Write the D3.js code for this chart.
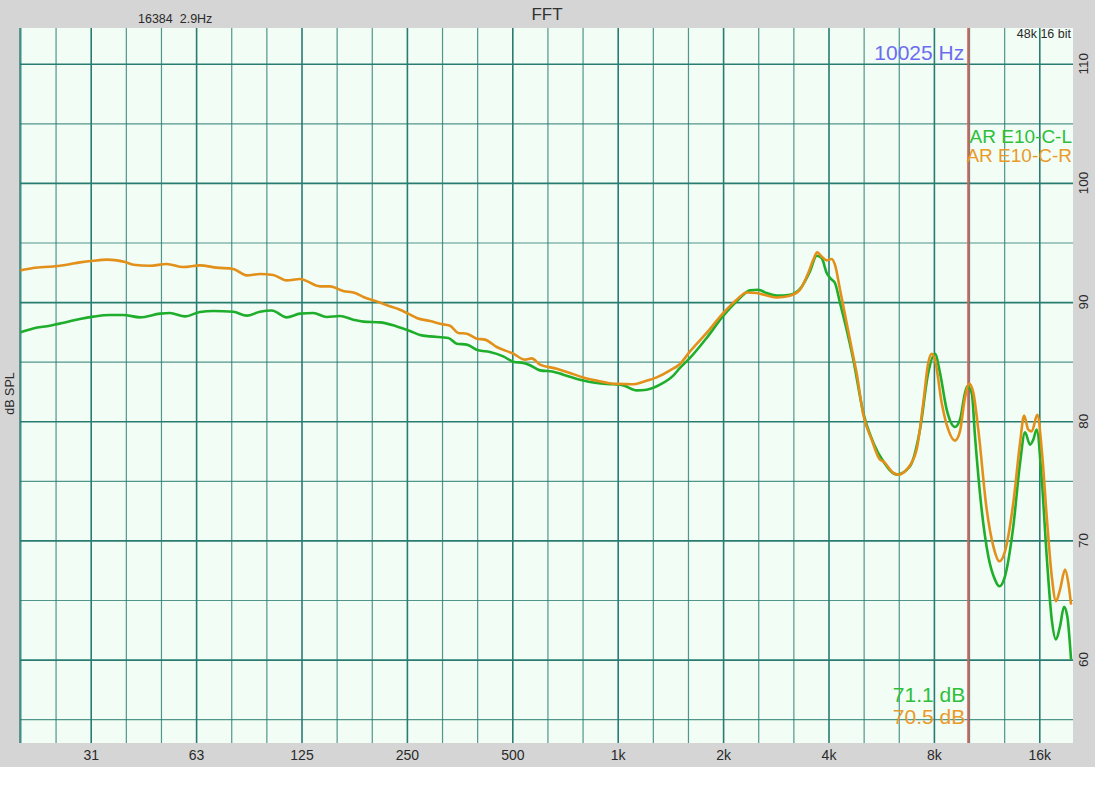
<!DOCTYPE html>
<html>
<head>
<meta charset="utf-8">
<script src="https://cdn.jsdelivr.net/npm/d3@7"></script>
<style>
  html, body { margin: 0; padding: 0; background: #ffffff; }
  svg { display: block; font-family: "Liberation Sans", Arial, Helvetica, sans-serif; }
</style>
</head>
<body>
<svg id="chart" width="1095" height="800"></svg>
<script>
// ---------- DATA ----------
const seriesNames = ["AR E10-C-L", "AR E10-C-R"];
const levelLabels = ["71.1 dB", "70.5 dB"];
const cursorFreq = 10025;
const cursorLabel = "10025 Hz";
const fftInfo = "16384  2.9Hz";
const formatInfo = "48k 16 bit";
const titleText = "FFT";
const yAxisTitle = "dB SPL";

const xTickFreqs = [31.25, 62.5, 125, 250, 500, 1000, 2000, 4000, 8000, 16000];
const xTickLabels = ["31", "63", "125", "250", "500", "1k", "2k", "4k", "8k", "16k"];
const yTickValues = [60, 70, 80, 90, 100, 110];

// Left channel (green)
const freqL = [19.7, 21.4, 23.9, 26.7, 29.1, 31.8, 35.5, 38.7, 43.2, 49.3, 52.6, 58.1, 64.1, 70.0, 79.8, 87.2, 95.1, 102.8,
  113.4, 123.8, 135.1, 147.5, 161.0, 175.7, 187.7, 209.5, 233.8, 255.1, 272.5, 291.1, 328.3, 346.9, 370.4, 399.8,
  431.7, 471.1, 503.2, 537.5, 555.5, 600.0, 654.9, 699.4, 780.3, 871.2, 971.5, 1037.6, 1133, 1210, 1321, 1441, 1506,
  1609, 1795, 2004, 2187, 2387, 2521, 2664, 2845, 3106, 3316, 3541, 3702, 3824, 3953, 4085, 4173, 4315, 4507, 4709,
  5029, 5371, 5734, 6264, 6837, 7301, 7707, 8056, 8329, 8703, 9191, 9495, 9815, 9968, 10261, 10484, 10952, 11441,
  11953, 12304, 12766, 13486, 14098, 14564, 15054, 15382, 15728, 16260, 16799, 17367, 17857, 18335, 18823, 19232, 19716];
const dbL = [87.46, 87.79, 88.02, 88.33, 88.58, 88.78, 88.92, 88.92, 88.72, 89.03, 89.09, 88.80, 89.17, 89.25, 89.19, 88.86, 89.19, 89.30,
  88.72, 89.03, 89.09, 88.75, 88.83, 88.52, 88.36, 88.30, 87.96, 87.58, 87.24, 87.12, 86.99, 86.51, 86.43, 85.95,
  85.81, 85.44, 85.00, 84.89, 84.77, 84.27, 84.16, 83.91, 83.49, 83.21, 83.10, 83.01, 82.59, 82.65, 83.07, 83.83, 84.47,
  85.31, 86.99, 88.86, 90.06, 90.98, 91.04, 90.76, 90.54, 90.62, 91.10, 92.58, 93.89, 93.70, 92.44, 91.88, 91.60, 89.92, 87.68, 85.17,
  80.70, 78.20, 76.64, 75.52, 76.22, 79.30, 84.05, 85.67, 84.05, 80.97, 79.52, 80.13, 82.37, 82.93, 82.37, 78.73, 72.58, 68.67,
  66.71, 66.15, 66.99, 71.18, 76.50, 79.07, 78.04, 78.46, 79.30, 75.10, 68.67, 63.36, 61.68, 62.79, 64.42, 63.63, 60.00];

// Right channel (orange)
const freqR = [19.7, 21.4, 24.4, 26.7, 29.1, 31.8, 34.7, 37.1, 39.2, 41.4, 46.1, 51.5, 57.4, 64.1, 71.6, 79.8, 87.2, 95.1,
  103.8, 113.4, 123.8, 141.2, 150.7, 164.5, 177.7, 187.7, 204.9, 221.2, 236.2, 252.3, 266.7, 291.1, 317.6, 332.0,
  350.6, 370.4, 395.6, 417.9, 451.3, 503.2, 543.6, 568.2, 600.0, 669.6, 730.6, 797.4, 871.2, 971.5, 1037.6, 1108,
  1183, 1292, 1411, 1506, 1609, 1795, 2004, 2187, 2336, 2495, 2664, 2845, 3106, 3316, 3502, 3620, 3714, 3824, 3953,
  4085, 4173, 4315, 4507, 4709, 4813, 5029, 5312, 5612, 5734, 6123, 6329, 6686, 7141, 7460, 7707, 7885, 8056, 8421,
  8794, 9191, 9495, 9815, 10100, 10369, 10713, 11323, 11827, 12304, 12766, 13486, 14098, 14475, 14882, 15225, 15794,
  16260, 16799, 17367, 17857, 18335, 18955, 19365, 19716];
const dbR = [92.66, 92.86, 92.99, 93.14, 93.33, 93.47, 93.56, 93.50, 93.36, 93.14, 93.05, 93.20, 92.94, 93.08, 92.89, 92.78, 92.24, 92.36,
  92.27, 91.82, 91.94, 91.32, 91.32, 90.93, 90.76, 90.43, 90.06, 89.70, 89.42, 89.03, 88.67, 88.41, 88.13, 88.02,
  87.41, 87.35, 86.93, 86.85, 86.23, 85.67, 85.17, 85.28, 84.75, 84.41, 84.05, 83.68, 83.41, 83.15, 83.13, 83.10,
  83.32, 83.68, 84.27, 84.81, 85.86, 87.41, 89.09, 90.20, 90.81, 90.76, 90.56, 90.39, 90.54, 91.04, 92.44, 93.56, 94.17, 93.83, 93.50,
  93.62, 93.14, 91.04, 88.25, 85.44, 84.05, 80.55, 78.46, 76.78, 76.64, 75.66, 75.52, 75.94, 77.62, 81.54, 84.89, 85.67, 85.17, 81.54,
  79.30, 78.37, 79.15, 81.98, 83.15, 82.40, 79.30, 72.58, 69.50, 68.25, 69.09, 73.15, 78.18, 80.47, 79.30, 79.15, 80.55,
  77.62, 72.02, 66.99, 64.89, 65.87, 67.55, 66.44, 64.61];

// ---------- LAYOUT ----------
const W = 1095, H = 800;
const plot = { left: 20, top: 28, right: 1073, bottom: 743 };
const colors = {
  frame: "#d5d5d5",
  plotBg: "#f2fdf5",
  grid: "#287c71",
  green: "#1fae2c",
  orange: "#e2901a",
  greenText: "#2dbf3a",
  orangeText: "#ea9a28",
  cursor: "#e05a55",
  cursorText: "#6d6cf0",
  text: "#2a2a2a"
};

const svg = d3.select("#chart");

const x = d3.scaleLog().domain([19.63, 19970]).range([plot.left, plot.right]);
const y = d3.scaleLinear().domain([53.0, 113.0]).range([plot.bottom, plot.top]);

// backgrounds
svg.append("rect").attr("x", 0).attr("y", 0).attr("width", W).attr("height", 767).attr("fill", colors.frame);
svg.append("rect").attr("x", plot.left).attr("y", plot.top)
  .attr("width", plot.right - plot.left).attr("height", plot.bottom - plot.top).attr("fill", colors.plotBg);

// grid: third-octave verticals
const thirdOctaves = d3.range(-17, 13).map(k => 1000 * Math.pow(2, k / 3)).filter(f => f >= 19.63 && f <= 19970);
const isOctave = f => xTickFreqs.some(t => Math.abs(Math.log2(f / t)) < 0.01);

const gx = svg.append("g").attr("transform", `translate(0,${plot.bottom})`)
  .call(d3.axisBottom(x).tickValues(thirdOctaves).tickSize(-(plot.bottom - plot.top)).tickFormat(""));
gx.select(".domain").remove();
gx.selectAll(".tick line")
  .attr("stroke", colors.grid)
  .attr("stroke-width", d => isOctave(d) ? 1.6 : 1.2)
  .attr("stroke-opacity", d => isOctave(d) ? 1 : 0.8);

// grid: 5 dB horizontals
const gy = svg.append("g").attr("transform", `translate(${plot.left},0)`)
  .call(d3.axisLeft(y).tickValues(d3.range(55, 113, 5)).tickSize(-(plot.right - plot.left)).tickFormat(""));
gy.select(".domain").remove();
gy.selectAll(".tick line")
  .attr("stroke", colors.grid)
  .attr("stroke-width", d => d % 10 === 0 ? 1.6 : 1.2)
  .attr("stroke-opacity", d => d % 10 === 0 ? 1 : 0.8);

// left border line
svg.append("line").attr("x1", plot.left).attr("x2", plot.left).attr("y1", plot.top).attr("y2", plot.bottom)
  .attr("stroke", colors.grid).attr("stroke-width", 1.4);

// x labels
const gxl = svg.append("g").attr("transform", `translate(0,${plot.bottom})`)
  .call(d3.axisBottom(x).tickValues(xTickFreqs).tickSize(0).tickPadding(7).tickFormat((d, i) => xTickLabels[i]));
gxl.select(".domain").remove();
gxl.selectAll("text").attr("font-size", 14).attr("fill", colors.text)
  .attr("font-family", "Liberation Sans, Arial, sans-serif");

// y labels on right (rotated)
yTickValues.forEach(v => {
  svg.append("text")
    .attr("transform", `translate(${plot.right + 15},${y(v)}) rotate(-90)`)
    .attr("text-anchor", "middle")
    .attr("font-size", 13.5)
    .attr("fill", colors.text)
    .text(v);
});

// y title
svg.append("text")
  .attr("transform", `translate(14,${(plot.top + plot.bottom) / 2 + 8}) rotate(-90)`)
  .attr("text-anchor", "middle").attr("font-size", 12.5).attr("fill", colors.text).text(yAxisTitle);

// title and info
svg.append("text").attr("x", 547).attr("y", 20).attr("text-anchor", "middle")
  .attr("font-size", 17).attr("fill", "#333").text(titleText);
svg.append("text").attr("x", 138).attr("y", 23).attr("font-size", 12.5).attr("fill", colors.text)
  .attr("xml:space", "preserve").style("white-space", "pre").text(fftInfo);
svg.append("text").attr("x", 1071).attr("y", 38).attr("text-anchor", "end")
  .attr("font-size", 12.5).attr("fill", colors.text).text(formatInfo);

// clip
svg.append("clipPath").attr("id", "clip").append("rect")
  .attr("x", plot.left).attr("y", plot.top).attr("width", plot.right - plot.left).attr("height", plot.bottom - plot.top);

// cursor line
svg.append("line").attr("x1", x(cursorFreq)).attr("x2", x(cursorFreq))
  .attr("y1", plot.top).attr("y2", plot.bottom)
  .attr("stroke", colors.cursor).attr("stroke-width", 2);

// curves
const line = d3.line().x(d => x(d[0])).y(d => y(d[1])).curve(d3.curveMonotoneX);
const dataL = freqL.map((f, i) => [f, dbL[i]]);
const dataR = freqR.map((f, i) => [f, dbR[i]]);

const curves = svg.append("g").attr("clip-path", "url(#clip)");
curves.append("path").datum(dataL).attr("d", line).attr("fill", "none")
  .attr("stroke", colors.green).attr("stroke-width", 2.6).attr("stroke-linejoin", "round");
curves.append("path").datum(dataR).attr("d", line).attr("fill", "none")
  .attr("stroke", colors.orange).attr("stroke-width", 2.6).attr("stroke-linejoin", "round");

// cursor label
svg.append("text").attr("x", x(cursorFreq) - 4).attr("y", 60).attr("text-anchor", "end")
  .attr("font-size", 21).attr("fill", colors.cursorText).text(cursorLabel);

// legend
svg.append("text").attr("x", 1072).attr("y", 143).attr("text-anchor", "end")
  .attr("font-size", 19).attr("fill", colors.greenText).text(seriesNames[0]);
svg.append("text").attr("x", 1072).attr("y", 162).attr("text-anchor", "end")
  .attr("font-size", 19).attr("fill", colors.orangeText).text(seriesNames[1]);

// level readouts
svg.append("text").attr("x", x(cursorFreq) - 3).attr("y", 702).attr("text-anchor", "end")
  .attr("font-size", 21).attr("fill", colors.greenText).text(levelLabels[0]);
svg.append("text").attr("x", x(cursorFreq) - 3).attr("y", 724).attr("text-anchor", "end")
  .attr("font-size", 21).attr("fill", colors.orangeText).text(levelLabels[1]);
</script>
</body>
</html>
